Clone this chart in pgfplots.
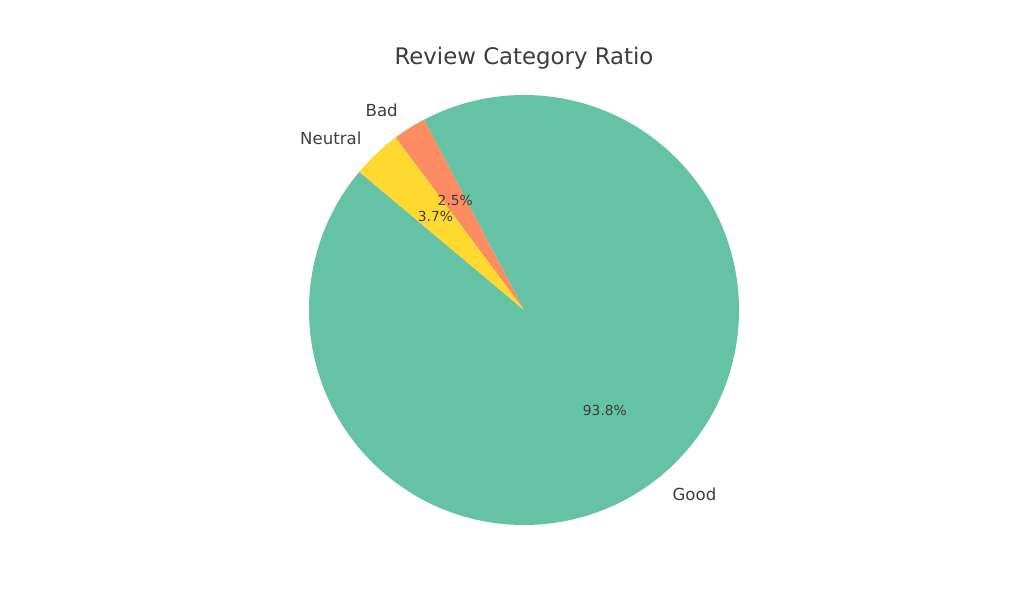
\documentclass[border=0pt]{standalone}
\usepackage{pgfplots}
\usepackage{pgfplotstable}
\pgfplotsset{compat=1.18}
\usepackage{fontspec}
\setmainfont{DejaVu Sans}
\definecolor{cgood}{HTML}{66C2A5}
\definecolor{cbad}{HTML}{FC8D62}
\definecolor{cneu}{HTML}{FFD92F}
\definecolor{ctext}{HTML}{3D3D3D}

\pgfplotstableread{
label value
Good 93.8
Bad 2.5
Neutral 3.7
}\pietable

\pgfplotstablegetelem{0}{value}\of\pietable \let\vGood\pgfplotsretval
\pgfplotstablegetelem{1}{value}\of\pietable \let\vBad\pgfplotsretval
\pgfplotstablegetelem{2}{value}\of\pietable \let\vNeu\pgfplotsretval
\pgfmathsetmacro\sGood{140}
\pgfmathsetmacro\eGood{\sGood+3.6*\vGood}
\pgfmathsetmacro\sBad{\eGood}
\pgfmathsetmacro\eBad{\sBad+3.6*\vBad}
\pgfmathsetmacro\sNeu{\eBad}
\pgfmathsetmacro\eNeu{\sNeu+3.6*\vNeu}
\pgfmathsetmacro\mGood{(\sGood+\eGood)/2}
\pgfmathsetmacro\mBad{(\sBad+\eBad)/2}
\pgfmathsetmacro\mNeu{(\sNeu+\eNeu)/2}
\def\R{2.15in}
\pgfkeys{/pgf/number format/assume math mode=true}
\newcommand\pct[1]{\pgfmathprintnumber[fixed,precision=1,fixed zerofill,assume math mode=true]{#1}\%}

\begin{document}
\begin{tikzpicture}
\begin{axis}[
  width=10.24in, height=6.14in, scale only axis,
  xmin=0, xmax=1024, ymin=0, ymax=614,
  hide axis, clip=false,
]
\path (axis cs:0,0) rectangle (axis cs:1024,614);
\coordinate (C) at (axis cs:524,304);
\fill[cgood] (C) -- ++(\sGood:\R) arc[start angle=\sGood, end angle=\eGood, radius=\R] -- cycle;
\fill[cbad] (C) -- ++(\sBad:\R) arc[start angle=\sBad, end angle=\eBad, radius=\R] -- cycle;
\fill[cneu] (C) -- ++(\sNeu:\R) arc[start angle=\sNeu, end angle=\eNeu, radius=\R] -- cycle;
% labels
\path (C) ++(\mGood:1.1*\R) node[anchor=west, text=ctext, font=\fontsize{12}{14}\selectfont, inner sep=0pt] {Good};
\path (C) ++(\mBad:1.1*\R) node[anchor=east, text=ctext, font=\fontsize{12}{14}\selectfont, inner sep=0pt] {Bad};
\path (C) ++(\mNeu:1.1*\R) node[anchor=east, text=ctext, font=\fontsize{12}{14}\selectfont, inner sep=0pt] {Neutral};
% percentages
\path (C) ++(\mGood:0.6*\R) node[text=ctext, font=\fontsize{10}{12}\selectfont, inner sep=0pt] {\pct{\vGood}};
\path (C) ++(\mBad:0.6*\R) node[text=ctext, font=\fontsize{10}{12}\selectfont, inner sep=0pt] {\pct{\vBad}};
\path (C) ++(\mNeu:0.6*\R) node[text=ctext, font=\fontsize{10}{12}\selectfont, inner sep=0pt] {\pct{\vNeu}};
% title
\node[text=ctext, font=\fontsize{16.5}{19}\selectfont] at (axis cs:524,556) {Review Category Ratio};
\end{axis}
\end{tikzpicture}
\end{document}
